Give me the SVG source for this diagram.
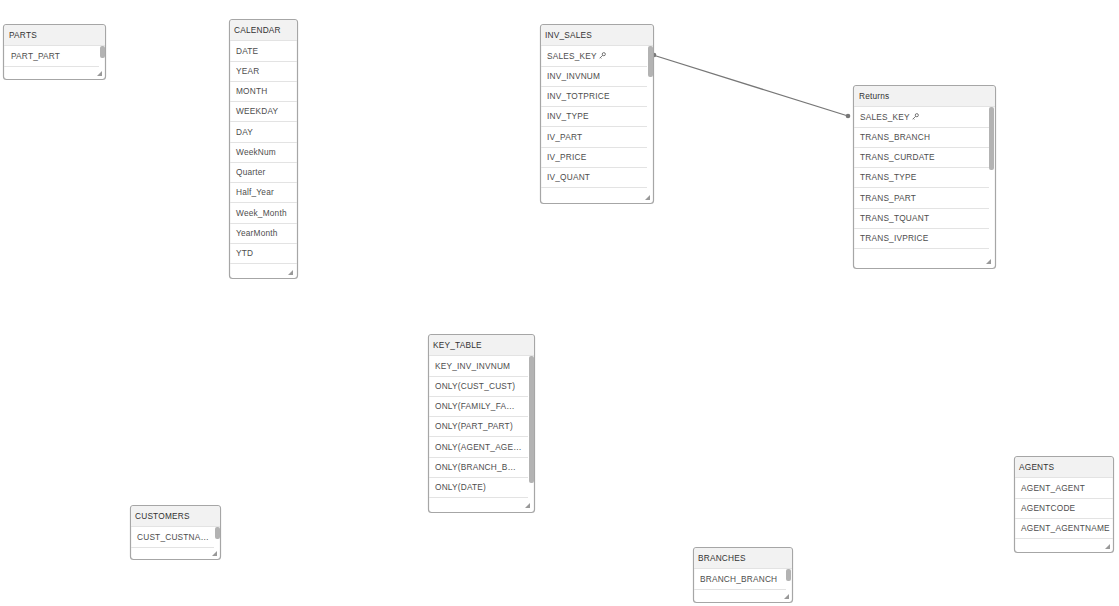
<svg xmlns="http://www.w3.org/2000/svg" width="1119" height="606" viewBox="0 0 1119 606">
<defs>
<style>
.box{fill:#fff;stroke:#a6a6a6;stroke-width:1.2}
.hdr{fill:#f2f2f2}
.sep{stroke:#e3e3e3;stroke-width:1}
.t{font-family:"Liberation Sans",Arial,sans-serif;font-size:8.3px;fill:#4d4d4d;letter-spacing:0.2px}
.h{font-family:"Liberation Sans",Arial,sans-serif;font-size:8.3px;fill:#333;letter-spacing:0.2px}
.sb{fill:#b3b3b3}
.conn{stroke:#777;stroke-width:1.3;fill:none}
.dot{fill:#777}
.key{fill:none;stroke:#555;stroke-width:0.9}
</style>
<symbol id="grip" viewBox="0 0 6 6"><polygon points="6,0 6,6 0,6" fill="#999"/></symbol>
<symbol id="keyicon" viewBox="0 0 8 8"><circle cx="5.5" cy="2.5" r="1.8" fill="none" stroke="#555" stroke-width="0.9"/><path d="M4.2,3.8 L0.8,7.2 M1.6,6.4 L2.6,7.4" fill="none" stroke="#555" stroke-width="0.9"/></symbol>
</defs>
<rect width="1119" height="606" fill="#fff"/>

<g id="connectors">
<line class="conn" x1="653" y1="55" x2="848" y2="116"/>
<circle class="dot" cx="654" cy="55" r="2.3"/>
<circle class="dot" cx="848" cy="116" r="2.3"/>
</g>

<g id="node-parts">
<rect class="box" x="3.5" y="24.5" width="102" height="55" rx="3"/>
<path class="hdr" d="M4.1,45 V27.5 a2.4,2.4 0 0 1 2.4,-2.4 H102.5 a2.4,2.4 0 0 1 2.4,2.4 V45 Z"/>
<line class="sep" x1="4" y1="45.5" x2="105" y2="45.5"/>
<text class="h" x="9" y="38">PARTS</text>
<text class="t" x="11" y="59">PART_PART</text>
<line class="sep" x1="4" y1="66.5" x2="99" y2="66.5"/>
<rect class="sb" x="100" y="46" width="5" height="12" rx="2"/>
<use href="#grip" x="97" y="71" width="5" height="5"/>
</g>

<g id="node-calendar">
<rect class="box" x="229.5" y="19.5" width="68" height="259" rx="3"/>
<path class="hdr" d="M230.1,40 V22.5 a2.4,2.4 0 0 1 2.4,-2.4 H294.5 a2.4,2.4 0 0 1 2.4,2.4 V40 Z"/>
<line class="sep" x1="230" y1="40.5" x2="297" y2="40.5"/>
<text class="h" x="234" y="33">CALENDAR</text>
<text class="t" x="236" y="54">DATE</text>
<line class="sep" x1="230" y1="61.5" x2="297" y2="61.5"/>
<text class="t" x="236" y="74">YEAR</text>
<line class="sep" x1="230" y1="81.5" x2="297" y2="81.5"/>
<text class="t" x="236" y="94">MONTH</text>
<line class="sep" x1="230" y1="101.5" x2="297" y2="101.5"/>
<text class="t" x="236" y="114">WEEKDAY</text>
<line class="sep" x1="230" y1="121.5" x2="297" y2="121.5"/>
<text class="t" x="236" y="135">DAY</text>
<line class="sep" x1="230" y1="142.5" x2="297" y2="142.5"/>
<text class="t" x="236" y="155">WeekNum</text>
<line class="sep" x1="230" y1="162.5" x2="297" y2="162.5"/>
<text class="t" x="236" y="175">Quarter</text>
<line class="sep" x1="230" y1="182.5" x2="297" y2="182.5"/>
<text class="t" x="236" y="195">Half_Year</text>
<line class="sep" x1="230" y1="202.5" x2="297" y2="202.5"/>
<text class="t" x="236" y="216">Week_Month</text>
<line class="sep" x1="230" y1="223.5" x2="297" y2="223.5"/>
<text class="t" x="236" y="236">YearMonth</text>
<line class="sep" x1="230" y1="243.5" x2="297" y2="243.5"/>
<text class="t" x="236" y="256">YTD</text>
<line class="sep" x1="230" y1="263.5" x2="297" y2="263.5"/>
<use href="#grip" x="288" y="270" width="5" height="5"/>
</g>

<g id="node-inv-sales">
<rect class="box" x="540.5" y="24.5" width="113" height="179" rx="3"/>
<path class="hdr" d="M541.1,45 V27.5 a2.4,2.4 0 0 1 2.4,-2.4 H650.5 a2.4,2.4 0 0 1 2.4,2.4 V45 Z"/>
<line class="sep" x1="541" y1="45.5" x2="653" y2="45.5"/>
<text class="h" x="545" y="38">INV_SALES</text>
<text class="t" x="547" y="59">SALES_KEY</text>
<use href="#keyicon" x="599" y="52" width="7" height="7"/>
<line class="sep" x1="541" y1="66.5" x2="647" y2="66.5"/>
<text class="t" x="547" y="79">INV_INVNUM</text>
<line class="sep" x1="541" y1="86.5" x2="647" y2="86.5"/>
<text class="t" x="547" y="99">INV_TOTPRICE</text>
<line class="sep" x1="541" y1="106.5" x2="647" y2="106.5"/>
<text class="t" x="547" y="119">INV_TYPE</text>
<line class="sep" x1="541" y1="126.5" x2="647" y2="126.5"/>
<text class="t" x="547" y="140">IV_PART</text>
<line class="sep" x1="541" y1="147.5" x2="647" y2="147.5"/>
<text class="t" x="547" y="160">IV_PRICE</text>
<line class="sep" x1="541" y1="167.5" x2="647" y2="167.5"/>
<text class="t" x="547" y="180">IV_QUANT</text>
<line class="sep" x1="541" y1="187.5" x2="647" y2="187.5"/>
<rect class="sb" x="648" y="46" width="5" height="31" rx="2"/>
<use href="#grip" x="645" y="195" width="5" height="5"/>
</g>

<g id="node-returns">
<rect class="box" x="853.5" y="85.5" width="142" height="183" rx="3"/>
<path class="hdr" d="M854.1,106 V88.5 a2.4,2.4 0 0 1 2.4,-2.4 H992.5 a2.4,2.4 0 0 1 2.4,2.4 V106 Z"/>
<line class="sep" x1="854" y1="106.5" x2="995" y2="106.5"/>
<text class="h" x="859" y="99">Returns</text>
<text class="t" x="860" y="120">SALES_KEY</text>
<use href="#keyicon" x="912" y="113" width="7" height="7"/>
<line class="sep" x1="854" y1="127.5" x2="989" y2="127.5"/>
<text class="t" x="860" y="140">TRANS_BRANCH</text>
<line class="sep" x1="854" y1="147.5" x2="989" y2="147.5"/>
<text class="t" x="860" y="160">TRANS_CURDATE</text>
<line class="sep" x1="854" y1="167.5" x2="989" y2="167.5"/>
<text class="t" x="860" y="180">TRANS_TYPE</text>
<line class="sep" x1="854" y1="187.5" x2="989" y2="187.5"/>
<text class="t" x="860" y="201">TRANS_PART</text>
<line class="sep" x1="854" y1="208.5" x2="989" y2="208.5"/>
<text class="t" x="860" y="221">TRANS_TQUANT</text>
<line class="sep" x1="854" y1="228.5" x2="989" y2="228.5"/>
<text class="t" x="860" y="241">TRANS_IVPRICE</text>
<line class="sep" x1="854" y1="248.5" x2="989" y2="248.5"/>
<rect class="sb" x="989" y="107" width="5" height="63" rx="2"/>
<use href="#grip" x="986" y="259" width="5" height="5"/>
</g>

<g id="node-key-table">
<rect class="box" x="428.5" y="334.5" width="106" height="178" rx="3"/>
<path class="hdr" d="M429.1,355 V337.5 a2.4,2.4 0 0 1 2.4,-2.4 H531.5 a2.4,2.4 0 0 1 2.4,2.4 V355 Z"/>
<line class="sep" x1="429" y1="355.5" x2="534" y2="355.5"/>
<text class="h" x="433" y="348">KEY_TABLE</text>
<text class="t" x="435" y="369">KEY_INV_INVNUM</text>
<line class="sep" x1="429" y1="376.5" x2="528" y2="376.5"/>
<text class="t" x="435" y="389">ONLY(CUST_CUST)</text>
<line class="sep" x1="429" y1="396.5" x2="528" y2="396.5"/>
<text class="t" x="435" y="409">ONLY(FAMILY_FA…</text>
<line class="sep" x1="429" y1="416.5" x2="528" y2="416.5"/>
<text class="t" x="435" y="429">ONLY(PART_PART)</text>
<line class="sep" x1="429" y1="436.5" x2="528" y2="436.5"/>
<text class="t" x="435" y="450">ONLY(AGENT_AGE…</text>
<line class="sep" x1="429" y1="457.5" x2="528" y2="457.5"/>
<text class="t" x="435" y="470">ONLY(BRANCH_B…</text>
<line class="sep" x1="429" y1="477.5" x2="528" y2="477.5"/>
<text class="t" x="435" y="490">ONLY(DATE)</text>
<line class="sep" x1="429" y1="497.5" x2="528" y2="497.5"/>
<rect class="sb" x="529" y="356" width="5" height="127" rx="2"/>
<use href="#grip" x="525" y="503" width="5" height="5"/>
</g>

<g id="node-customers">
<rect class="box" x="130.5" y="505.5" width="90" height="54" rx="3"/>
<path class="hdr" d="M131.1,526 V508.5 a2.4,2.4 0 0 1 2.4,-2.4 H217.5 a2.4,2.4 0 0 1 2.4,2.4 V526 Z"/>
<line class="sep" x1="131" y1="526.5" x2="220" y2="526.5"/>
<text class="h" x="135" y="519">CUSTOMERS</text>
<text class="t" x="137" y="540">CUST_CUSTNA…</text>
<line class="sep" x1="131" y1="547.5" x2="214" y2="547.5"/>
<rect class="sb" x="215" y="527" width="5" height="12" rx="2"/>
<use href="#grip" x="212" y="551" width="5" height="5"/>
</g>

<g id="node-branches">
<rect class="box" x="693.5" y="547.5" width="99" height="55" rx="3"/>
<path class="hdr" d="M694.1,568 V550.5 a2.4,2.4 0 0 1 2.4,-2.4 H789.5 a2.4,2.4 0 0 1 2.4,2.4 V568 Z"/>
<line class="sep" x1="694" y1="568.5" x2="792" y2="568.5"/>
<text class="h" x="698" y="561">BRANCHES</text>
<text class="t" x="700" y="582">BRANCH_BRANCH</text>
<line class="sep" x1="694" y1="589.5" x2="786" y2="589.5"/>
<rect class="sb" x="786" y="569" width="5" height="12" rx="2"/>
<use href="#grip" x="784" y="594" width="5" height="5"/>
</g>

<g id="node-agents">
<rect class="box" x="1014.5" y="456.5" width="99" height="96" rx="3"/>
<path class="hdr" d="M1015.1,477 V459.5 a2.4,2.4 0 0 1 2.4,-2.4 H1110.5 a2.4,2.4 0 0 1 2.4,2.4 V477 Z"/>
<line class="sep" x1="1015" y1="477.5" x2="1113" y2="477.5"/>
<text class="h" x="1019" y="470">AGENTS</text>
<text class="t" x="1021" y="491">AGENT_AGENT</text>
<line class="sep" x1="1015" y1="498.5" x2="1113" y2="498.5"/>
<text class="t" x="1021" y="511">AGENTCODE</text>
<line class="sep" x1="1015" y1="518.5" x2="1113" y2="518.5"/>
<text class="t" x="1021" y="531">AGENT_AGENTNAME</text>
<line class="sep" x1="1015" y1="538.5" x2="1113" y2="538.5"/>
<use href="#grip" x="1105" y="544" width="5" height="5"/>
</g>
</svg>
